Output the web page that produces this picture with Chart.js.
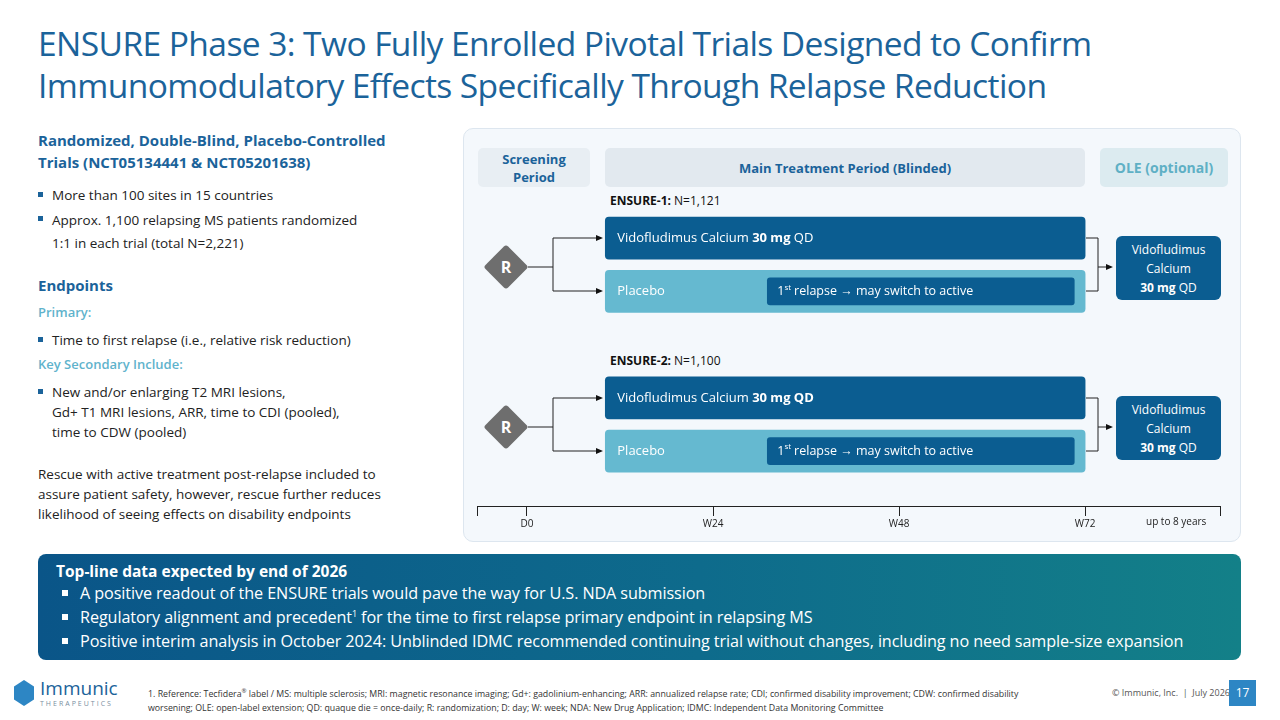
<!DOCTYPE html>
<html>
<head>
<meta charset="utf-8">
<script src="https://cdn.jsdelivr.net/npm/chart.js@4"></script>
<style>
  body { margin: 0; width: 1280px; height: 720px; position: relative; background: #fff; font-family: "Open Sans", sans-serif; overflow: hidden; }
  .abs { position: absolute; }
  h1 { position: absolute; left: 38px; top: 22px; margin: 0; font-size: 33.6px; line-height: 42px; font-weight: 500; color: #1b639a; letter-spacing: -0.6px; white-space: nowrap; }
  .t { left: 38px; color: #222; font-size: 13.5px; line-height: 20px; white-space: nowrap; }
  .hd { color: #1b639a; font-weight: 700; font-size: 15px; line-height: 22px; }
  .sub { color: #5fb3cc; font-weight: 600; font-size: 13px; }
  .bl { padding-left: 14px; }
  .bl:before { content: ""; position: absolute; left: 0; top: 7px; width: 5px; height: 5px; background: #1b639a; }
  .panel { left: 463px; top: 128px; width: 778px; height: 414px; background: #f4f8fc; border: 1px solid #dde6ef; border-radius: 10px; box-sizing: border-box; }
  .hdr { border-radius: 5px; display: flex; align-items: center; justify-content: center; text-align: center; font-weight: 700; font-size: 13px; line-height: 18px; color: #1b639a; }
  .ole { background: #0b5d91; color: #fff; border-radius: 6px; text-align: center; font-size: 12px; line-height: 19px; padding-top: 4px; box-sizing: border-box; white-space: nowrap; }
  .diam { width: 32px; height: 32px; background: #6e6e6e; transform: rotate(45deg); border-radius: 3px; }
  .dl { color: #fff; font-weight: 700; font-size: 16px; width: 40px; text-align: center; }
  .banner { left: 38px; top: 554px; width: 1203px; height: 106px; border-radius: 8px; background: linear-gradient(90deg, #0a5588 0%, #0e6b8c 55%, #138088 100%); color: #fff; }
  .banner .tt { position: absolute; left: 18px; top: 6px; font-weight: 700; font-size: 15.5px; }
  .banner ul { position: absolute; left: 24px; top: 27px; margin: 0; padding: 0; list-style: none; white-space: nowrap; }
  .banner li { position: relative; padding-left: 18px; font-size: 16.2px; line-height: 24px; letter-spacing: -0.1px; }
  .banner li:before { content: ""; position: absolute; left: 0; top: 9px; width: 6px; height: 6px; background: #fff; }
  .foot { left: 148px; top: 684px; font-size: 8.8px; line-height: 14px; color: #333; width: 895px; }
</style>
</head>
<body>
<h1>ENSURE Phase 3: Two Fully Enrolled Pivotal Trials Designed to Confirm<br>Immunomodulatory Effects Specifically Through Relapse Reduction</h1>

<div class="abs t hd" style="top:129px">Randomized, Double-Blind, Placebo-Controlled<br>Trials (NCT05134441 &amp; NCT05201638)</div>
<div class="abs t bl" style="top:185px">More than 100 sites in 15 countries</div>
<div class="abs t bl" style="top:209px;line-height:23px">Approx. 1,100 relapsing MS patients randomized<br>1:1 in each trial (total N=2,221)</div>
<div class="abs t hd" style="top:274px">Endpoints</div>
<div class="abs t sub" style="top:302px">Primary:</div>
<div class="abs t bl" style="top:330px">Time to first relapse (i.e., relative risk reduction)</div>
<div class="abs t sub" style="top:354px">Key Secondary Include:</div>
<div class="abs t bl" style="top:382px">New and/or enlarging T2 MRI lesions,<br>Gd+ T1 MRI lesions, ARR, time to CDI (pooled),<br>time to CDW (pooled)</div>
<div class="abs t" style="top:464px">Rescue with active treatment post-relapse included to<br>assure patient safety, however, rescue further reduces<br>likelihood of seeing effects on disability endpoints</div>

<div class="abs panel"></div>
<div class="abs hdr" style="left:478px;top:148px;width:112px;height:39px;background:#e8eef3">Screening<br>Period</div>
<div class="abs hdr" style="left:605px;top:148px;width:480px;height:39px;background:#e2e9ef">Main Treatment Period (Blinded)</div>
<div class="abs hdr" style="left:1100px;top:148px;width:128px;height:39px;background:#dcebf0;color:#5fb0c5;font-size:14px">OLE (optional)</div>
<div class="abs" style="left:610px;top:192px;font-size:12px;color:#111"><b>ENSURE-1:</b> N=1,121</div>
<div class="abs" style="left:610px;top:352px;font-size:12px;color:#111"><b>ENSURE-2:</b> N=1,100</div>

<svg class="abs" style="left:0;top:0" width="1280" height="720">
  <g stroke="#222" stroke-width="1" fill="none">
    <path d="M528,267 H553 M553,238 V291 M553,238 H601 M553,291 H601" />
    <path d="M528,427 H553 M553,398 V451 M553,398 H601 M553,451 H601" />
    <path d="M1086,238 H1098 V291 H1086 M1086,398 H1098 V451 H1086" />
    <path d="M1098,267 H1111 M1098,427 H1111" />
  </g>
  <g fill="#111">
    <path d="M596,235 L603,238 L596,241 z M596,288 L603,291 L596,294 z M596,395 L603,398 L596,401 z M596,448 L603,451 L596,454 z M1106,264 L1113,267 L1106,270 z M1106,424 L1113,427 L1106,430 z"/>
  </g>
</svg>
<div class="abs diam" style="left:490px;top:251px"></div>
<div class="abs dl" style="left:486px;top:256px">R</div>
<div class="abs diam" style="left:490px;top:411px"></div>
<div class="abs dl" style="left:486px;top:416px">R</div>
<div class="abs ole" style="left:1116px;top:236px;width:105px;height:64px"><div>Vidofludimus</div><div>Calcium</div><div><b>30 mg</b> QD</div></div>
<div class="abs ole" style="left:1116px;top:396px;width:105px;height:64px"><div>Vidofludimus</div><div>Calcium</div><div><b>30 mg</b> QD</div></div>

<canvas id="c" class="abs" style="left:465px;top:130px" width="775" height="412"></canvas>
<div class="abs" style="left:1146px;top:514px;font-size:10px;color:#222">up to 8 years</div>

<div class="abs banner">
  <div class="tt">Top-line data expected by end of 2026</div>
  <ul>
    <li>A positive readout of the ENSURE trials would pave the way for U.S. NDA submission</li>
    <li>Regulatory alignment and precedent<sup style="font-size:9px;line-height:0">1</sup> for the time to first relapse primary endpoint in relapsing MS</li>
    <li>Positive interim analysis in October 2024: Unblinded IDMC recommended continuing trial without changes, including no need sample-size expansion</li>
  </ul>
</div>

<div class="abs" style="left:14px;top:680px;width:20px;height:26px;background:#2d86c4;clip-path:polygon(50% 0,100% 25%,100% 75%,50% 100%,0 75%,0 25%)"></div>
<div class="abs" style="left:40px;top:678px;font-size:19px;color:#1b639a;line-height:20px">Immunic</div>
<div class="abs" style="left:40px;top:699px;font-size:7px;color:#7a8ea0;letter-spacing:2px">THERAPEUTICS</div>
<div class="abs foot">1. Reference: Tecfidera<sup style="font-size:6px">®</sup> label / MS: multiple sclerosis; MRI: magnetic resonance imaging; Gd+: gadolinium-enhancing; ARR: annualized relapse rate; CDI; confirmed disability improvement; CDW: confirmed disability worsening; OLE: open-label extension; QD: quaque die = once-daily; R: randomization; D: day; W: week; NDA: New Drug Application; IDMC: Independent Data Monitoring Committee</div>
<div class="abs" style="left:1112px;top:686px;font-size:9px;color:#555">© Immunic, Inc.&nbsp; |&nbsp; July 2026</div>
<div class="abs" style="left:1229px;top:680px;width:27px;height:26px;background:#2d86c4;color:#fff;font-size:12px;text-align:center;line-height:26px">17</div>

<script>
// timeline in weeks
const axisMin = -6.45;
const axisMax = 89.4;
const tickWeeks = [0, 24, 48, 72];
const tickLabels = ['D0', 'W24', 'W48', 'W72'];

// treatment arms (row index: 0/1 ENSURE-1, 3/4 ENSURE-2)
const armRows = [0, 1, 3, 4];
const armStart = [10.1, 10.1, 10.1, 10.1];
const armEnd = [72, 72, 72, 72];
const armColors = ['#0b5d91', '#65b9d0', '#0b5d91', '#65b9d0'];
const armText = [
  [['Vidofludimus Calcium ', false], ['30 mg', true], [' QD', false]],
  [['Placebo', false]],
  [['Vidofludimus Calcium ', false], ['30 mg QD', true]],
  [['Placebo', false]]
];

// rescue switch after first relapse
const switchRows = [1, 4];
const switchStart = [31, 31];
const switchEnd = [70.6, 70.6];

const barText = {
  id: 'barText',
  afterDatasetsDraw(chart) {
    const ctx = chart.ctx;
    ctx.save();
    ctx.fillStyle = '#fff';
    ctx.textBaseline = 'middle';
    chart.getDatasetMeta(0).data.forEach((el, i) => {
      let x = Math.min(el.x, el.base) + 12;
      armText[i].forEach(([s, bold]) => {
        ctx.font = (bold ? '700 ' : '') + '13px "Open Sans"';
        ctx.fillText(s, x, el.y);
        x += ctx.measureText(s).width;
      });
    });
    chart.getDatasetMeta(1).data.forEach(el => {
      let x = Math.min(el.x, el.base) + 10;
      ctx.font = '12.5px "Open Sans"';
      ctx.fillText('1', x, el.y);
      x += ctx.measureText('1').width;
      ctx.font = '8px "Open Sans"';
      ctx.fillText('st', x, el.y - 4);
      x += ctx.measureText('st').width + 3;
      ctx.font = '12.5px "Open Sans"';
      ctx.fillText('relapse \u2192 may switch to active', x, el.y);
    });
    ctx.restore();
  }
};

new Chart(document.getElementById('c'), {
  type: 'bar',
  data: {
    datasets: [{
      data: armRows.map((r, i) => ({ y: r, x: [armStart[i], armEnd[i]] })),
      backgroundColor: armColors,
      barThickness: 42,
      borderRadius: 4,
      borderSkipped: false,
      grouped: false,
      order: 2
    }, {
      data: switchRows.map((r, i) => ({ y: r, x: [switchStart[i], switchEnd[i]] })),
      backgroundColor: '#0b5d91',
      barThickness: 27,
      borderRadius: 3,
      borderSkipped: false,
      grouped: false,
      order: 1
    }]
  },
  options: {
    indexAxis: 'y',
    responsive: false,
    animation: false,
    layout: { padding: { left: 12, right: 20, top: 81.5, bottom: 10 } },
    plugins: { legend: { display: false }, tooltip: { enabled: false } },
    scales: {
      y: { type: 'linear', min: -0.5, max: 5.03, reverse: true, offset: false, display: false },
      x: {
        type: 'linear', min: axisMin, max: axisMax,
        afterBuildTicks: s => { s.ticks = [axisMin, ...tickWeeks, axisMax].map(v => ({ value: v })); },
        ticks: {
          autoSkip: false, maxRotation: 0, padding: 2,
          color: '#222', font: { size: 10, family: 'Open Sans' },
          callback: v => { const i = tickWeeks.indexOf(v); return i < 0 ? '' : tickLabels[i]; }
        },
        grid: { drawOnChartArea: false, tickLength: 10, color: '#222' },
        border: { color: '#222', width: 1 }
      }
    }
  },
  plugins: [barText]
});
</script>
</body>
</html>
